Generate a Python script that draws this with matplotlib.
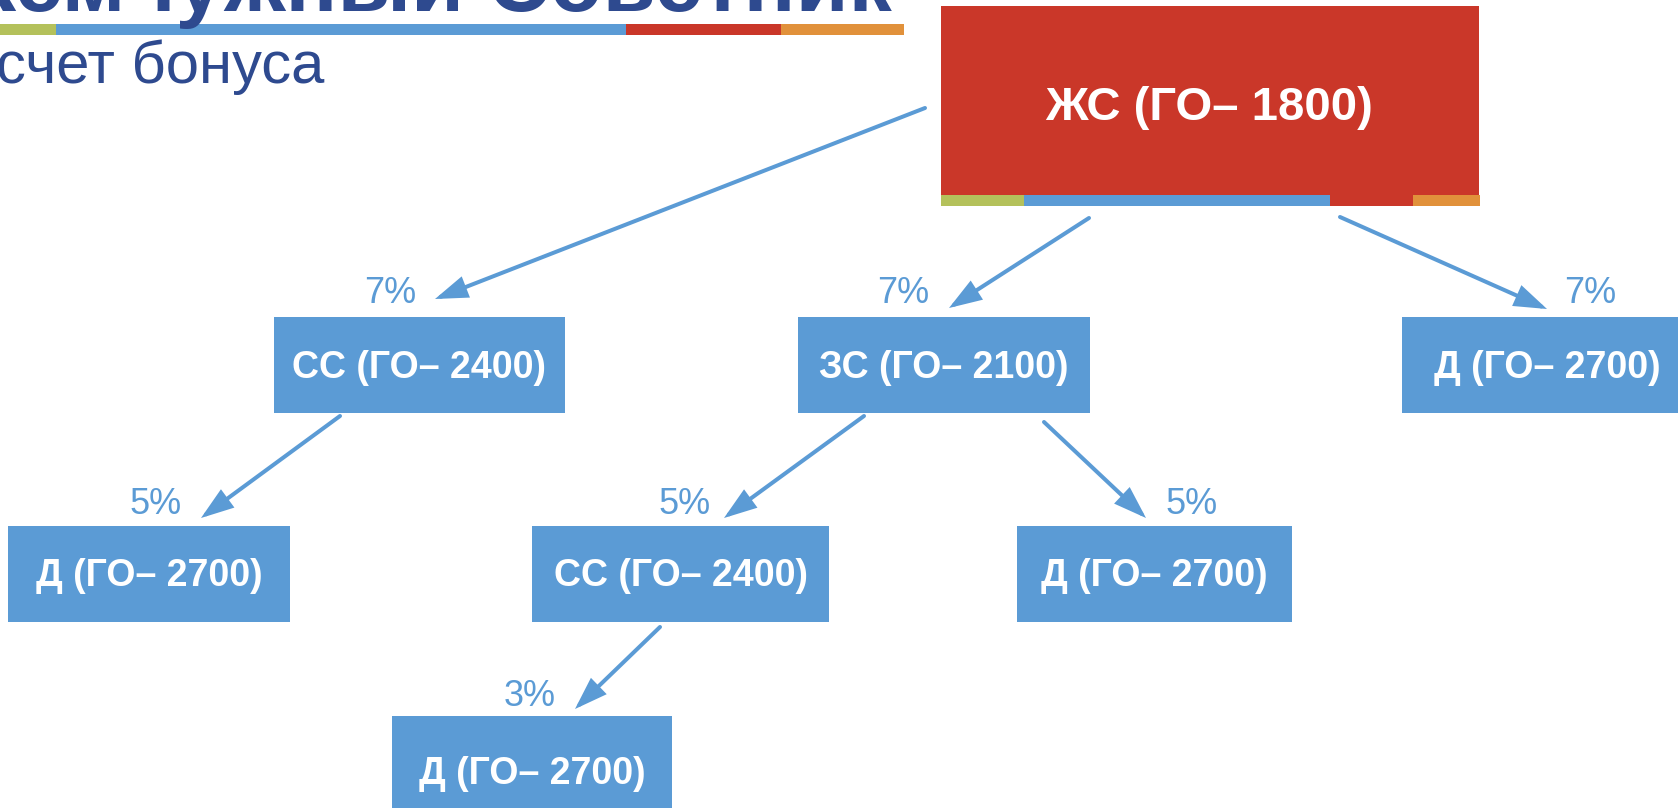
import matplotlib
matplotlib.use("Agg")
import matplotlib.pyplot as plt
from matplotlib.patches import Rectangle

plt.rcParams['font.family'] = ['Liberation Sans', 'DejaVu Sans']

# ---- data ----
node_ids = ["root", "ss1", "zs", "d1", "d2", "ss2", "d3", "d4"]
node_labels = ["ЖС (ГО– 1800)", "СС (ГО– 2400)", "ЗС (ГО– 2100)", "Д (ГО– 2700)",
               "Д (ГО– 2700)", "СС (ГО– 2400)", "Д (ГО– 2700)", "Д (ГО– 2700)"]
edge_from = ["root", "root", "root", "ss1", "zs", "zs", "ss2"]
edge_to = ["ss1", "zs", "d1", "d2", "ss2", "d3", "d4"]
edge_pct = ["7%", "7%", "7%", "5%", "5%", "5%", "3%"]
title_text = "Жемчужный Советник"
subtitle_hidden = "Ра"
subtitle_visible = "счет бонуса"

# ---- layout (pixels, origin top-left) ----
W, H = 1678, 808
box_pos = {  # x0, y0, x1, y1
    "root": (941, 6, 1479, 195),
    "ss1": (274, 317, 565, 413),
    "zs": (798, 317, 1090, 413),
    "d1": (1402, 317, 1692, 413),
    "d2": (8, 526, 290, 622),
    "ss2": (532, 526, 829, 622),
    "d3": (1017, 526, 1292, 622),
    "d4": (392, 716, 672, 826),
}
arrow_pos = {  # start, end
    ("root", "ss1"): ((925, 108), (435, 299)),
    ("root", "zs"): ((1089, 218), (949, 308)),
    ("root", "d1"): ((1340, 217), (1547, 309)),
    ("ss1", "d2"): ((340, 416), (201, 518)),
    ("zs", "ss2"): ((864, 416), (724, 518)),
    ("zs", "d3"): ((1044, 422), (1146, 518)),
    ("ss2", "d4"): ((660, 627), (575, 709)),
}
pct_pos = {  # x center, baseline
    "ss1": (390, 303), "zs": (903, 303), "d1": (1590, 303),
    "d2": (156, 514), "ss2": (685, 514), "d3": (1192, 514),
    "d4": (530, 706),
}

RED = "#CA3729"
BLUE = "#5B9BD5"
GREEN = "#B4C15B"
ORANGE = "#E1913B"
NAVY = "#2E4A8F"

fig = plt.figure(figsize=(W / 100, H / 100), dpi=100)
ax = fig.add_axes([0, 0, 1, 1])
ax.set_xlim(0, W)
ax.set_ylim(H, 0)
ax.axis("off")

# title (clipped at top) and subtitle (clipped at left)
ax.text(892, 11, title_text, ha="right", va="baseline", fontsize=62,
        fontweight="bold", color=NAVY, clip_on=True)

renderer = fig.canvas.get_renderer()
tmp = ax.text(0, 83, subtitle_hidden, ha="left", va="baseline", fontsize=43)
hidden_w = tmp.get_window_extent(renderer).width
tmp.remove()
ax.text(-hidden_w - 4, 83, subtitle_hidden + subtitle_visible, ha="left",
        va="baseline", fontsize=43, color=NAVY, clip_on=True)

def color_bar(x_edges, y0, y1):
    cols = [GREEN, BLUE, RED, ORANGE]
    for i in range(4):
        ax.add_patch(Rectangle((x_edges[i], y0), x_edges[i + 1] - x_edges[i],
                               y1 - y0, facecolor=cols[i], edgecolor="none"))

color_bar([0, 56, 626, 781, 904], 24, 35)

# boxes
for nid, lab in zip(node_ids, node_labels):
    x0, y0, x1, y1 = box_pos[nid]
    fc = RED if nid == "root" else BLUE
    ax.add_patch(Rectangle((x0, y0), x1 - x0, y1 - y0, facecolor=fc,
                           edgecolor="none"))
    cx = (x0 + x1) / 2
    if nid == "root":
        ax.text(1209, 120, lab, ha="center", va="baseline", fontsize=34,
                fontweight="bold", color="white")
    else:
        cy = (y0 + y1) / 2
        ax.text(cx, cy + 12.5, lab, ha="center", va="baseline", fontsize=27,
                fontweight="bold", color="white")

color_bar([941, 1024, 1330, 1413, 1480], 195, 206)

# arrows and percentages
for a, b, p in zip(edge_from, edge_to, edge_pct):
    (sx, sy), (ex, ey) = arrow_pos[(a, b)]
    ax.annotate("", xy=(ex, ey), xytext=(sx, sy),
                arrowprops=dict(arrowstyle="-|>,head_length=0.64,head_width=0.22",
                                mutation_scale=28, color=BLUE, lw=2.9,
                                shrinkA=0, shrinkB=0, joinstyle="miter"))
    px, py = pct_pos[b]
    ax.text(px, py, p, ha="center", va="baseline", fontsize=26, color=BLUE)

fig.savefig("out.png", dpi=100)
